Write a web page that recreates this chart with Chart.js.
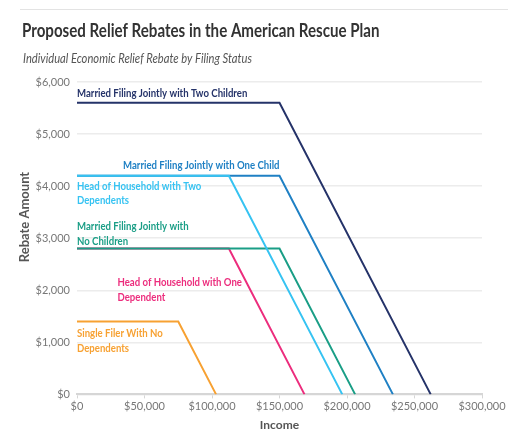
<!DOCTYPE html>
<html>
<head>
<meta charset="utf-8">
<title>Proposed Relief Rebates in the American Rescue Plan</title>
<script src="https://cdn.jsdelivr.net/npm/chart.js"></script>
<style>
  html, body { margin: 0; padding: 0; background: #fff; }
  #wrap { width: 508px; height: 438px; }
</style>
</head>
<body>
<div id="wrap"><canvas id="rebateChart" width="508" height="438"></canvas></div>
<script>
// Filing statuses, in the order they're drawn (first = on top)
var statusNames = [
  'Married Filing Jointly with Two Children',
  'Head of Household with Two Dependents',
  'Married Filing Jointly with One Child',
  'Married Filing Jointly with No Children',
  'Head of Household with One Dependent',
  'Single Filer With No Dependents'
];
// full rebate, income where phase-out starts, income where it hits zero
var maxRebate   = [5600, 4200, 4200, 2800, 2800, 1400];
var phaseStart  = [150000, 112500, 150000, 150000, 112500, 75000];
var phaseEnd    = [262000, 196500, 234000, 206000, 168500, 103000];

var lineColors = ['#253369', '#36c3f2', '#1f80c4', '#1a9e86', '#ec2d7d', '#f7a132'];

var xTicks = [0, 50000, 100000, 150000, 200000, 250000, 300000];
var yTicks = [0, 1000, 2000, 3000, 4000, 5000, 6000];

var datasets = statusNames.map(function(name, i) {
  return {
    label: name,
    data: [
      {x: 0, y: maxRebate[i]},
      {x: phaseStart[i], y: maxRebate[i]},
      {x: phaseEnd[i], y: 0}
    ],
    borderColor: lineColors[i],
    backgroundColor: lineColors[i],
    borderWidth: 2,
    pointRadius: 0,
    tension: 0,
    fill: false
  };
});

function money(v) {
  return '$' + v.toLocaleString('en-US');
}

// in-chart series labels: [dataset index, anchor income, anchor rebate, dy of first line, align, lines]
var seriesLabels = [
  [0, 0, 5600, -10, 'left', ['Married Filing Jointly with Two Children']],
  [2, 150000, 4200, -11, 'right', ['Married Filing Jointly with One Child']],
  [1, 0, 4200, 10, 'left', ['Head of Household with Two', 'Dependents']],
  [3, 0, 2800, -22, 'left', ['Married Filing Jointly with', 'No Children']],
  [4, 30000, 2000, -8, 'left', ['Head of Household with One', 'Dependent']],
  [5, 0, 1400, 12, 'left', ['Single Filer With No', 'Dependents']]
];

// text in the original is a bit narrow, so squeeze it sideways
function narrowText(ctx, text, x, y, squeeze) {
  ctx.save();
  ctx.translate(x, y);
  ctx.scale(squeeze, 1);
  ctx.fillText(text, 0, 0);
  ctx.restore();
}

var textPlugin = {
  id: 'textPlugin',
  beforeDraw: function(chart) {
    var ctx = chart.ctx;
    ctx.save();
    // thin rule across the top
    ctx.strokeStyle = '#e3e3e3';
    ctx.lineWidth = 1;
    ctx.beginPath();
    ctx.moveTo(20, 9.5);
    ctx.lineTo(508, 9.5);
    ctx.stroke();

    ctx.textBaseline = 'middle';
    ctx.textAlign = 'left';
    ctx.fillStyle = '#333333';
    ctx.font = 'bold 18px Lato';
    narrowText(ctx, 'Proposed Relief Rebates in the American Rescue Plan', 22, 31, 0.84);
    ctx.fillStyle = '#555555';
    ctx.font = 'italic 13px Lato';
    narrowText(ctx, 'Individual Economic Relief Rebate by Filing Status', 23, 59, 0.86);

    // y axis title
    ctx.translate(25, 217);
    ctx.rotate(-Math.PI / 2);
    ctx.textAlign = 'center';
    ctx.fillStyle = '#555555';
    ctx.font = 'bold 13px Lato';
    ctx.fillText('Rebate Amount', 0, 0);
    ctx.restore();
  },
  afterDatasetsDraw: function(chart) {
    var ctx = chart.ctx;
    var x = chart.scales.x, y = chart.scales.y;
    ctx.save();
    ctx.font = 'bold 12px Lato';
    ctx.textBaseline = 'middle';
    seriesLabels.forEach(function(l) {
      ctx.fillStyle = lineColors[l[0]];
      ctx.textAlign = l[4];
      var px = x.getPixelForValue(l[1]);
      var py = y.getPixelForValue(l[2]) + l[3];
      l[5].forEach(function(t, k) {
        narrowText(ctx, t, px, py + k * 14.6, 0.8);
      });
    });
    ctx.restore();
  }
};

new Chart(document.getElementById('rebateChart'), {
  type: 'line',
  data: { datasets: datasets },
  options: {
    responsive: false,
    animation: false,
    layout: { padding: { top: 82, right: 26, left: 0, bottom: 6 } },
    plugins: {
      legend: { display: false },
      tooltip: { enabled: false }
    },
    scales: {
      x: {
        type: 'linear',
        min: 0,
        max: 300000,
        afterBuildTicks: function(s) { s.ticks = xTicks.map(function(v) { return {value: v}; }); },
        ticks: {
          color: '#777',
          font: { family: 'Lato', size: 11 },
          padding: 1,
          maxRotation: 0,
          callback: function(v) { return money(v); }
        },
        grid: { drawOnChartArea: false, tickLength: 4, color: '#d6d6d6' },
        border: { color: '#d6d6d6', width: 2 },
        title: {
          display: true,
          text: 'Income',
          color: '#555',
          font: { family: 'Lato', size: 12, weight: 'bold' },
          padding: { top: 4, bottom: 0 }
        }
      },
      y: {
        min: 0,
        max: 6000,
        afterBuildTicks: function(s) { s.ticks = yTicks.map(function(v) { return {value: v}; }); },
        afterFit: function(s) { s.width = 77; },
        ticks: {
          color: '#777',
          font: { family: 'Lato', size: 11 },
          padding: 7,
          callback: function(v) { return money(v); }
        },
        grid: { color: '#ececec', lineWidth: 1.5, drawTicks: false },
        border: { display: false }
      }
    }
  },
  plugins: [textPlugin]
});
</script>
</body>
</html>
